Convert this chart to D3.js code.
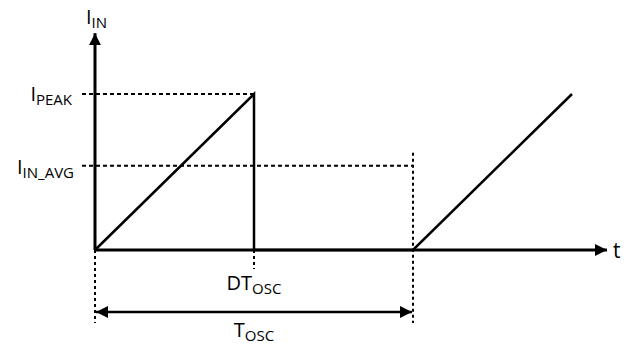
<!DOCTYPE html>
<html><head><meta charset="utf-8">
<script src="https://cdn.jsdelivr.net/npm/d3@7"></script>
<style>body{margin:0;background:#fff}svg{display:block}text{font-family:"Open Sans",sans-serif;fill:#000}</style>
</head><body><svg id="c" width="630" height="347"></svg>
<script>
// Data (normalized: period T = 1, peak current = 1)
const duty = 0.5;
const period = 1;
const peak = 1;
const avg = 0.54;
const waveT = [0, 0.5, 0.5, 1, 1.5];
const waveI = [0, 1, 0, 0, 1];
const tMax = 1.61;
const iMax = 1.39;
const labels = {yAxis:["I","IN"], peak:["I","PEAK"], avg:["I","IN_AVG"], xAxis:"t", dt:["DT","OSC"], t:["T","OSC"]};

const svg = d3.select("#c");
const x = d3.scaleLinear().domain([0, period]).range([95, 413]);
const y = d3.scaleLinear().domain([0, peak]).range([250, 94]);

const defs = svg.append("defs");
function marker(id, orient){
  defs.append("marker").attr("id",id).attr("viewBox","0 0 12 12").attr("refX",12).attr("refY",6)
   .attr("markerWidth",12).attr("markerHeight",12).attr("markerUnits","userSpaceOnUse").attr("orient",orient)
   .append("path").attr("d","M0,0L12,6L0,12Z").attr("fill","#000");
}
marker("arr","auto");
marker("arrS","auto-start-reverse");

// axes
svg.append("line").attr("x1",x(0)).attr("y1",y(0)).attr("x2",x(0)).attr("y2",y(iMax))
  .attr("stroke","#000").attr("stroke-width",3).attr("marker-end","url(#arr)");
svg.append("line").attr("x1",x(0)).attr("y1",y(0)).attr("x2",x(tMax)).attr("y2",y(0))
  .attr("stroke","#000").attr("stroke-width",3).attr("marker-end","url(#arr)");

// dashed reference lines
svg.append("line").attr("x1",82).attr("x2",x(duty)).attr("y1",y(peak)).attr("y2",y(peak))
  .attr("stroke","#000").attr("stroke-width",2).attr("stroke-dasharray","4,3");
svg.append("line").attr("x1",82).attr("x2",x(period)).attr("y1",y(avg)).attr("y2",y(avg))
  .attr("stroke","#000").attr("stroke-width",2).attr("stroke-dasharray","4,3");

// dotted verticals
svg.append("line").attr("x1",x(0)).attr("x2",x(0)).attr("y1",y(0)).attr("y2",323)
  .attr("stroke","#000").attr("stroke-width",2).attr("stroke-dasharray","3,3");
svg.append("line").attr("x1",x(duty)).attr("x2",x(duty)).attr("y1",y(0)).attr("y2",269)
  .attr("stroke","#000").attr("stroke-width",2).attr("stroke-dasharray","3,3");
svg.append("line").attr("x1",x(period)).attr("x2",x(period)).attr("y1",y(avg)-13).attr("y2",323)
  .attr("stroke","#000").attr("stroke-width",2).attr("stroke-dasharray","3,3");

// waveform
const pts = waveT.map((t,i)=>[t, waveI[i]]);
svg.append("path").attr("d", d3.line().x(d=>x(d[0])).y(d=>y(d[1]))(pts))
  .attr("fill","none").attr("stroke","#000").attr("stroke-width",2.5).attr("stroke-linejoin","miter");

// period arrow
svg.append("line").attr("x1",x(0)+1).attr("x2",x(period)-1).attr("y1",312).attr("y2",312)
  .attr("stroke","#000").attr("stroke-width",2.5)
  .attr("marker-start","url(#arrS)").attr("marker-end","url(#arr)");

function sublabel(txt, xp, yp, anchor){
  const t = svg.append("text").attr("x",xp).attr("y",yp).attr("font-size",20).attr("text-anchor",anchor||"start");
  t.append("tspan").text(txt[0]);
  t.append("tspan").attr("font-size",15).attr("dy",4).text(txt[1]);
  return t;
}
sublabel(labels.yAxis, 86, 24);
sublabel(labels.peak, 72, 101, "end");
sublabel(labels.avg, 74, 174, "end");
sublabel(labels.dt, x(duty), 290, "middle");
sublabel(labels.t, x(duty), 337, "middle");
svg.append("text").attr("x",613).attr("y",258).attr("font-size",21).text(labels.xAxis);
</script></body></html>
